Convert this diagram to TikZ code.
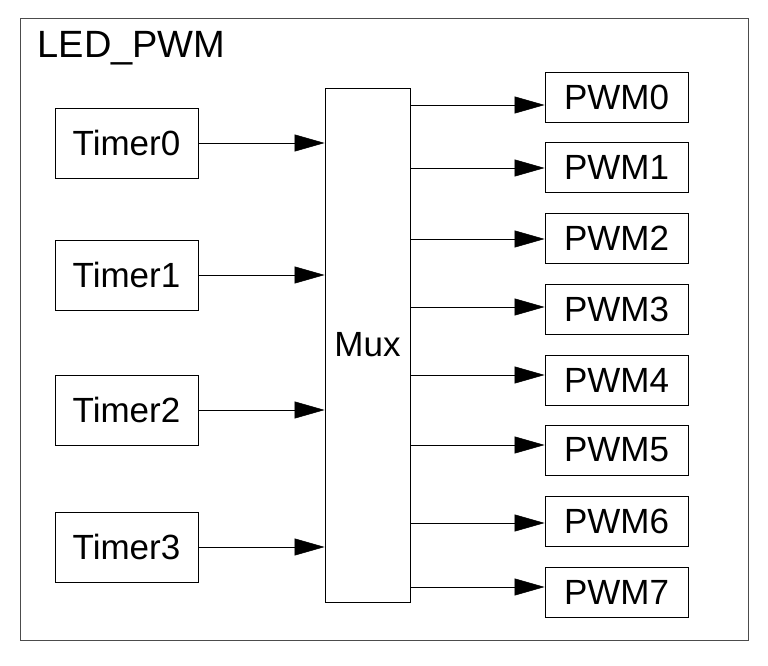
\documentclass[tikz,border=0pt]{standalone}
\usepackage{fontspec}
\setmainfont{Liberation Sans}
\usetikzlibrary{arrows.meta,positioning}

\begin{document}
\begin{tikzpicture}[
  x=1pt, y=-1pt,
  box/.style={rectangle, draw=black, line width=0.8pt, inner sep=0pt, minimum width=143pt, minimum height=50pt, font=\fontsize{35}{40}\selectfont},
  pwm/.style={box, minimum width=143pt, minimum height=50pt},
  arrow/.style={-{Triangle[length=30pt,width=17pt]}, line width=0.5pt}
]
\useasboundingbox (0,0) rectangle (768,666);
\draw[line width=0.8pt, black!70] (20,18) rectangle (748,640);
\node[anchor=west, font=\fontsize{38}{44}\selectfont] (title) at (34,48) {LED\_PWM};

% timers
\node[box, minimum height=70pt] (t0) at (126.5,143) {Timer0};
\node[box, minimum height=70pt] (t1) at (126.5,275) {Timer1};
\node[box, minimum height=70pt] (t2) at (126.5,410) {Timer2};
\node[box, minimum height=70pt] (t3) at (126.5,547) {Timer3};

% mux
\node[box, minimum width=85pt, minimum height=514pt] (mux) at (367.5,345) {Mux};

% outputs
\foreach \i/\y in {0/97,1/167,2/238,3/309,4/380,5/450,6/521,7/592}
  \node[pwm] (p\i) at (616.5,\y) {PWM\i};

\foreach \i in {0,...,3}
  \draw[arrow] (t\i.east) -- (t\i.east -| mux.west);

\foreach \i/\y in {0/105,1/168,2/239,3/307,4/375,5/445,6/523,7/587}{
  \coordinate (o\i) at (410,\y);
  \draw[arrow] (o\i) -- (o\i -| p\i.west);
}
\end{tikzpicture}
\end{document}
